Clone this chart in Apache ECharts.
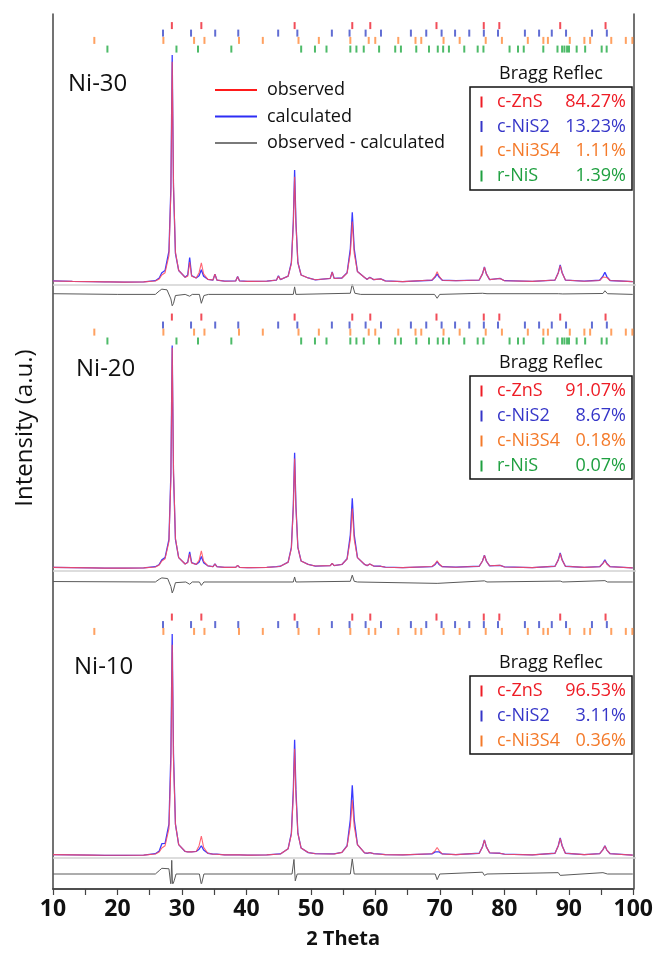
<!DOCTYPE html>
<html><head><meta charset="utf-8">
<script src="https://cdn.jsdelivr.net/npm/echarts/dist/echarts.min.js"></script>
<style>html,body{margin:0;padding:0;background:#fff}#c{width:656px;height:954px}</style>
</head><body><div id="c"></div>
<script>
// ---------------- DATA ----------------
const twoTheta = [10,13,16,18.0,18.3,18.6,21,24,25.8,26.4, 26.8,27.3,27.9,28.2,28.4,28.6,28.9,29.4,30.4,30.8, 31.1,31.4,32.1,32.55,32.9,33.25,33.9,34.7,35.0,35.3, 36.5,38.2,38.5,38.8,40.0,40.3,40.6,43.0,44.5,44.8, 45.1,46.3,46.8,47.1,47.3,47.5,47.8,48.3,49.4,50.5, 52.8,53.1,53.4,54.6,55.4,55.9,56.2,56.5,57.0,58.1, 58.5,58.9,59.5,60.6,61.3,64,68.5,69.0,69.3,69.6, 70.1,72.2,75.8,76.3,76.6,76.9,77.4,79.0,79.7,84, 87.5,88.0,88.3,88.6,89.1,92,94.4,94.9,95.2,95.5, 96.0,99.5];

const calcNi30 = [0.9,0.7,0.6,0.5,0.8,0.5,0.4,0.5,1.0,2.2, 4.5,5.5,14,42,100,42,13,5.5,2.5,3.5, 11.2,3.2,2.2,3.2,5.8,3.0,1.6,1.3,3.9,1.3, 0.8,0.9,2.9,0.9,0.7,1.0,0.7,0.8,1.3,3.2, 1.5,3.0,9,27,49.6,27,9,3.5,2.2,1.4, 2.0,4.9,2.0,2.2,4.5,15,31,15,5,2.4, 1.6,2.5,1.5,1.8,0.9,0.6,1.2,2.6,4.0,2.6, 1.2,1.0,1.3,4.0,7.0,4.0,1.5,2.0,1.0,0.7, 1.3,4.5,7.9,4.5,1.3,0.8,1.2,3.0,4.7,2.8, 1.1,0.6];
const obsNi30 = [0.9,0.7,0.6,0.5,1.3,0.5,0.4,0.5,0.9,1.8, 3.5,4.5,12,40,97,44,13.5,5.5,2.5,3.0, 9.2,3.0,2.2,4.5,8.8,4.0,1.6,1.3,3.9,1.3, 0.8,0.9,2.8,0.9,0.7,1.0,0.7,0.8,1.3,3.0, 1.5,3.0,8.5,26,46.6,26,9,3.5,2.2,1.4, 2.0,4.7,2.0,2.2,4.3,13,27,13,5,2.4, 1.6,2.4,1.5,1.8,0.9,0.6,1.3,3.0,5.0,3.0, 1.2,1.0,1.3,4.0,6.9,4.0,1.5,2.0,1.0,0.7, 1.3,4.4,7.6,4.4,1.3,0.8,1.1,2.6,3.4,2.4, 1.1,0.6];
const diffNi30 = [[10,0.3],[20,0],[25.8,0],[26.4,1.5],[26.8,2.3],[27.6,2.0],[28.2,-2],[28.4,-5],[28.6,-4],[28.9,-0.5],[30.4,0],[31.1,-0.8],[31.5,0],[32.6,0],[32.9,-3.9],[33.3,-0.5],[34,0],[47.1,0],[47.3,3.3],[47.5,0],[55.9,0.5],[56.2,4.5],[56.6,0.5],[57.5,0],[68.9,0],[69.3,-1.7],[69.7,0],[76.3,0.5],[76.6,1.1],[77,0.3],[88,0.3],[88.3,0.8],[88.7,0.2],[94.9,0.4],[95.2,1.6],[95.6,0.3],[99.5,0]];

const calcNi20 = [0.7,0.6,0.5,0.4,0.5,0.4,0.4,0.5,1.0,2.0, 4.0,5.0,13,42,98,42,13,5,2.2,3.0, 7.5,2.8,2.0,3.0,5.5,2.8,1.4,1.0,2.2,1.0, 0.7,0.7,1.6,0.7,0.6,0.7,0.6,0.7,1.0,1.8, 1.2,3.0,9.5,28,51,28,9.5,3.5,2.0,1.3, 1.5,2.5,1.5,2.0,4.5,15,31,15,5,2.0, 1.5,2.2,1.3,1.2,0.8,0.6,1.0,2.0,3.2,2.0, 1.0,0.8,1.2,3.5,6.0,3.5,1.4,1.6,0.9,0.6, 1.2,4.0,7.0,4.0,1.2,0.7,1.0,2.6,4.0,2.4, 1.0,0.5];
const obsNi20 = [0.7,0.6,0.5,0.4,0.5,0.4,0.4,0.5,0.9,1.8, 3.5,4.5,12,40,97,44,13.5,5,2.2,2.8, 6.5,2.6,2.0,3.8,8.0,3.5,1.4,1.0,2.2,1.0, 0.7,0.7,1.6,0.7,0.6,0.7,0.6,0.7,1.0,1.8, 1.2,3.0,9,27,48.5,27,9.5,3.5,2.0,1.3, 1.5,2.5,1.5,2.0,4.3,13,26.5,13,5,2.0, 1.5,2.2,1.3,1.2,0.8,0.6,1.1,2.3,3.6,2.3, 1.0,0.8,1.2,3.5,6.0,3.5,1.4,1.6,0.9,0.6, 1.2,3.9,6.7,3.9,1.2,0.7,1.0,2.4,3.6,2.2, 1.0,0.5];
const diffNi20 = [[10,0.2],[25.8,0],[26.4,1.2],[26.8,1.8],[27.7,1.5],[28.2,-2],[28.4,-4.8],[28.6,-3.5],[28.9,-0.3],[30.5,0],[31.1,-1],[31.5,0],[32.6,0],[32.9,-1.5],[33.3,0],[47.1,0],[47.3,2.2],[47.5,0],[55.9,0.3],[56.2,3],[56.5,0.3],[57,0],[69.3,-0.6],[69.6,0],[76.6,0.5],[77,0],[88.3,0.4],[88.7,0],[95.2,0.6],[95.6,0],[99.5,0]];

const calcNi10 = [0.6,0.5,0.4,0.3,0.3,0.3,0.3,0.4,1.0,2.2, 5.4,5.5,14,45,97.4,45,14,5,2.0,1.8, 2.5,1.8,2.0,3.0,4.5,2.6,1.2,0.8,1.2,0.8, 0.5,0.5,0.8,0.5,0.4,0.5,0.4,0.5,0.8,1.2, 0.9,3.2,10,29,51,29,10,3.5,1.5,1.0, 0.9,1.2,0.9,1.6,4.5,16,31,16,5,1.4, 1.2,1.5,1.0,0.8,0.6,0.5,0.9,1.8,2.5,1.8, 0.9,0.6,1.2,4.0,7.1,4.0,1.4,1.2,0.8,0.5, 1.2,4.5,7.9,4.5,1.2,0.6,1.0,2.8,4.5,2.6, 1.0,0.4];
const obsNi10 = [0.6,0.5,0.4,0.3,0.3,0.3,0.3,0.4,0.9,1.8, 3.5,4.5,12,40,92.6,42,14,5,2.0,1.8, 2.5,1.8,2.0,4.5,8.7,3.8,1.2,0.8,1.2,0.8, 0.5,0.5,0.8,0.5,0.4,0.5,0.4,0.5,0.8,1.2, 0.9,3.2,9.5,27,47,27,10,3.5,1.5,1.0, 0.9,1.2,0.9,1.6,4.3,13,24.5,13,5,1.4, 1.2,1.5,1.0,0.8,0.6,0.5,1.0,2.4,3.7,2.4, 0.9,0.6,1.2,4.0,7.0,4.0,1.4,1.2,0.8,0.5, 1.2,4.4,7.7,4.4,1.2,0.6,1.0,2.8,4.4,2.6, 1.0,0.4];
const diffNi10 = [[10,0],[25.8,0],[26.4,1.5],[26.8,2.5],[27.9,2.3],[28.2,-5],[28.33,6],[28.45,-5],[28.7,-3],[29.0,0],[32.6,0],[32.9,-4.7],[33.3,0],[46.9,0],[47.2,6.4],[47.4,-3],[47.7,0],[55.9,0],[56.2,6.7],[56.5,0],[69.0,0],[69.3,-2.5],[69.7,0],[76.3,0.8],[76.6,-0.6],[77,0],[88.0,0.6],[88.3,-0.6],[88.6,0],[94.9,0.6],[95.2,1],[95.6,0],[99.5,0]];

// Bragg reflection positions (2θ)
const braggZnS = [28.35,32.9,47.3,56.2,58.98,69.2,76.5,78.9,88.3,95.3];
const braggNiS2 = [26.98,31.31,35.04,38.6,44.76,47.72,53.05,55.78,58.26,60.63,65.25,67.62,69.99,72.07,74.26,76.51,78.7,82.85,85.04,87.0,89.2,93.2,95.5];
const braggNi3S4 = [16.38,27.04,31.78,33.38,38.71,42.39,47.9,51.04,55.9,58.74,59.75,63.3,65.96,66.85,70.29,72.78,76.8,79.3,83.3,85.7,86.4,89.78,92.03,92.92,96.18,98.43,99.44];
const braggNiS = [18.4,29.06,32.38,37.53,48.31,50.44,52.22,55.9,56.84,57.97,60.34,62.83,63.71,66.08,68.04,69.4,70.23,71.12,73.49,75.56,76.45,80.48,81.78,82.67,85.69,87.88,88.59,88.95,89.36,89.66,90.84,92.15,94.7,95.47];

const sampleNames = ['Ni-30','Ni-20','Ni-10'];
const phaseNames = ['c-ZnS','c-NiS2','c-Ni3S4','r-NiS'];
const fractionsNi30 = ['84.27%','13.23%','1.11%','1.39%'];
const fractionsNi20 = ['91.07%','8.67%','0.18%','0.07%'];
const fractionsNi10 = ['96.53%','3.11%','0.36%'];
const legendNames = ['observed','calculated','observed - calculated'];
const xMin = 10, xMax = 100, xStep = 10;

// ---------------- LAYOUT / STYLE ----------------
const FONT = '"Open Sans", "DejaVu Sans", sans-serif';
const phaseColors = ['#ee1c25','#3535c8','#f47a2a','#1fa040'];
const tickColors = ['#ee2030','#3a48c8','#ff8a3a','#22aa44'];
const GL = 53, GR = 20;
const SCALE = 2.28, YMIN = -12, YMAX = 115;
const panels = [
  {base:283, diffOff:-5.0, levels:[112.9,109.6,106.4,102.6], calc:calcNi30, obs:obsNi30, diff:diffNi30, fr:fractionsNi30,
   label:{x:68,y:84}, box:{title:74, top:87, rows:[102,126.5,151,176], bottom:190}},
  {base:569, diffOff:-5.7, levels:[110.5,107,103.9,100], calc:calcNi20, obs:obsNi20, diff:diffNi20, fr:fractionsNi20,
   label:{x:76,y:369}, box:{title:363, top:376, rows:[391,416,441,466], bottom:479}},
  {base:856, diffOff:-7.9, levels:[104.8,101.5,98.5], calc:calcNi10, obs:obsNi10, diff:diffNi10, fr:fractionsNi10,
   label:{x:74,y:667}, box:{title:663, top:676, rows:[691,716,741], bottom:754}}
];
const braggLists = [braggZnS, braggNiS2, braggNi3S4, braggNiS];

const grids = [], xAxes = [], yAxes = [], series = [], graphics = [];
panels.forEach((p, i) => {
  grids.push({left:GL, right:GR, top:p.base - YMAX*SCALE, height:(YMAX-YMIN)*SCALE});
  xAxes.push({type:'value', gridIndex:i, min:xMin, max:xMax, show:false});
  yAxes.push({type:'value', gridIndex:i, min:YMIN, max:YMAX, show:false});
  series.push({
    name:'calculated', type:'line', xAxisIndex:i, yAxisIndex:i, showSymbol:false, silent:true, z:2,
    itemStyle:{color:'#2d2df5'}, lineStyle:{color:'#3a3aff', width:1.3},
    data: twoTheta.map((x,k)=>[x, p.calc[k]]),
    markLine:{silent:true, symbol:'none', label:{show:false}, lineStyle:{color:'#d2d2d2', width:1.5, type:'solid'},
      data:[{yAxis:-0.9}]}
  });
  series.push({
    name:'observed', type:'line', xAxisIndex:i, yAxisIndex:i, showSymbol:false, silent:true, z:3,
    itemStyle:{color:'#ff1a1a'}, lineStyle:{color:'#ff4a5a', width:1.1, opacity:0.85},
    data: twoTheta.map((x,k)=>[x, p.obs[k]])
  });
  series.push({
    name:'observed - calculated', type:'line', xAxisIndex:i, yAxisIndex:i, showSymbol:false, silent:true, z:2,
    itemStyle:{color:'#7a7a7a'}, lineStyle:{color:'#5a5a5a', width:1},
    data: p.diff.map(d=>[d[0], d[1] + p.diffOff])
  });
  p.levels.forEach((lv, j) => {
    series.push({
      name:phaseNames[j], type:'scatter', xAxisIndex:i, yAxisIndex:i, silent:true, z:4,
      symbol:'rect', symbolSize:[2,7], itemStyle:{color:tickColors[j]},
      data: braggLists[j].map(x=>[x, lv])
    });
  });
  // sample label
  graphics.push({type:'text', x:p.label.x, y:p.label.y,
    style:{text:sampleNames[i], font:'24px ' + FONT, fill:'#111', textAlign:'left', textVerticalAlign:'middle', align:'left', verticalAlign:'middle'}});
  // Bragg box
  const b = p.box;
  graphics.push({type:'text', x:551, y:b.title,
    style:{text:'Bragg Reflec', font:'18px ' + FONT, fill:'#111', textAlign:'center', textVerticalAlign:'middle', align:'center', verticalAlign:'middle'}});
  graphics.push({type:'rect', shape:{x:470, y:b.top, width:162, height:b.bottom-b.top},
    style:{fill:'none', stroke:'#111', lineWidth:1.5}});
  p.fr.forEach((f, j) => {
    const y = b.rows[j];
    graphics.push({type:'rect', shape:{x:480.5, y:y-5.5, width:2, height:11}, style:{fill:phaseColors[j]}});
    graphics.push({type:'text', x:497, y:y,
      style:{text:phaseNames[j], font:'18px ' + FONT, fill:phaseColors[j], textAlign:'left', textVerticalAlign:'middle', align:'left', verticalAlign:'middle'}});
    graphics.push({type:'text', x:626, y:y,
      style:{text:f, font:'18px ' + FONT, fill:phaseColors[j], textAlign:'right', textVerticalAlign:'middle', align:'right', verticalAlign:'middle'}});
  });
});

// frame grid with the visible axes
grids.push({left:GL, right:GR, top:14, bottom:64});
const frameLine = {show:true, lineStyle:{color:'#444', width:1.5}};
xAxes.push({type:'value', gridIndex:3, position:'bottom', min:xMin, max:xMax, interval:xStep,
  axisLine:frameLine, splitLine:{show:false},
  axisTick:{show:true, length:6, lineStyle:{color:'#444', width:1.2}},
  minorTick:{show:true, splitNumber:2, length:6, lineStyle:{color:'#444', width:1.2}},
  axisLabel:{fontSize:23, fontWeight:'bold', color:'#111', margin:9, fontFamily:FONT},
  name:'2 Theta', nameLocation:'middle', nameGap:40,
  nameTextStyle:{fontSize:20, fontWeight:'bold', color:'#111', fontFamily:FONT}});
xAxes.push({type:'value', gridIndex:3, position:'top', min:xMin, max:xMax,
  axisLine:frameLine, axisTick:{show:false}, axisLabel:{show:false}, splitLine:{show:false}});
yAxes.push({type:'value', gridIndex:3, position:'left', min:0, max:1,
  axisLine:frameLine, axisTick:{show:false}, axisLabel:{show:false}, splitLine:{show:false}});
yAxes.push({type:'value', gridIndex:3, position:'right', min:0, max:1,
  axisLine:frameLine, axisTick:{show:false}, axisLabel:{show:false}, splitLine:{show:false}});

graphics.push({type:'text', x:25, y:428, rotation:Math.PI/2,
  style:{text:'Intensity (a.u.)', font:'24px ' + FONT, fill:'#111', textAlign:'center', textVerticalAlign:'middle', align:'center', verticalAlign:'middle'}});

const chart = echarts.init(document.getElementById('c'), null, {renderer:'canvas'});
chart.setOption({
  animation:false,
  backgroundColor:'#fff',
  textStyle:{fontFamily:FONT},
  grid:grids, xAxis:xAxes, yAxis:yAxes, series:series,
  legend:{data:legendNames, left:210, top:75, orient:'vertical', icon:'rect', itemWidth:42, itemHeight:2,
    itemGap:6.5, selectedMode:false,
    textStyle:{fontSize:18, color:'#111', lineHeight:20, padding:[0,0,0,5], fontFamily:FONT}},
  graphic:{elements:graphics}
});
</script></body></html>
